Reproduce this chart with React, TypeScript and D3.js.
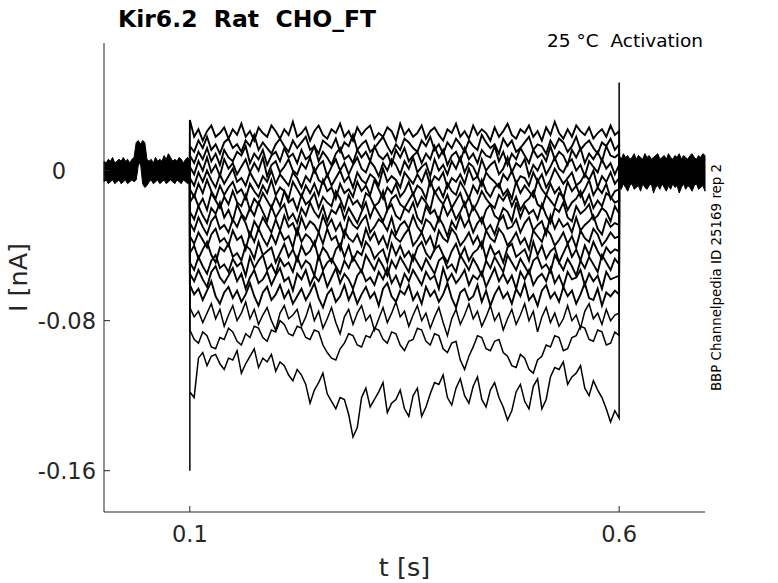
import React from "react";
import * as d3 from "d3";

// ---- data (current in pA, time in s) ----
const xTicks = [0.1, 0.6];
const yTicks = [0, -80, -160];
const yTickLabels = ["0", "-0.08", "-0.16"];

// holding level before / after the step: upper and lower edge of the overlaid sweeps
const preUpper = [5, 4, 6, 5, 7, 4, 5, 6, 5, 7, 5, 6, 4, 6, 7, 15, 16, 14, 16, 15, 6, 5, 6, 4, 7, 5, 6, 5, 8, 6, 9, 7, 5, 6, 5, 7, 6, 4, 6, 7, 5];
const preLower = [-6, -5, -7, -6, -5, -7, -6, -5, -7, -6, -5, -7, -6, -5, -6, -5, 3, 4, -7, -9, -8, -6, -5, -7, -6, -5, -7, -6, -5, -7, -6, -5, -6, -7, -5, -6, -7, -5, -6, -7, -6];
const postUpper = [8, 6, 9, 7, 8, 6, 7, 9, 6, 8, 7, 6, 9, 7, 8, 6, 7, 8, 9, 6, 7, 8, 6, 9, 7, 6, 8, 7, 9, 6, 8, 7, 6, 8, 9, 7, 6, 8, 7, 9, 8];
const postLower = [-8, -10, -7, -9, -11, -8, -7, -10, -9, -8, -11, -7, -9, -10, -8, -7, -12, -9, -8, -10, -7, -9, -11, -8, -10, -7, -9, -8, -12, -9, -7, -10, -8, -9, -11, -8, -7, -10, -9, -8, -11];

// sweeps during the step (0.1 s .. 0.6 s), evenly sampled
const s01 = [27, 18, 22, 16, 21, 24, 18, 20, 23, 17, 22, 19, 25, 18, 21, 16, 23, 20, 18, 24, 21, 17, 22, 19, 26, 18, 20, 23, 16, 21, 24, 19, 17, 22, 20, 25, 18, 21, 16, 23, 19, 22, 24, 17, 20, 18, 23, 21, 16, 25, 19, 22, 18, 20, 24, 17, 21, 23, 19, 16, 22, 20, 25, 18, 21, 17, 24, 19, 22, 20, 16, 23, 18, 21, 25, 19, 17, 22, 20, 24, 18, 21, 16, 23, 19, 26, 20, 17, 22, 18, 24, 21, 19, 23, 17, 20, 22, 18, 24, 19, 21];
const s02 = [13, 10, 16, 12, 18, 11, 14, 9, 15, 17, 12, 14, 10, 16, 13, 19, 11, 15, 12, 9, 14, 17, 13, 10, 16, 12, 15, 18, 11, 13, 9, 16, 14, 12, 17, 10, 15, 13, 19, 11, 14, 16, 10, 12, 15, 18, 13, 9, 14, 11, 17, 15, 12, 10, 16, 13, 18, 11, 14, 9, 15, 12, 17, 14, 10, 16, 13, 11, 19, 15, 12, 14, 9, 17, 13, 16, 10, 12, 15, 18, 11, 14, 13, 9, 16, 12, 17, 15, 10, 13, 18, 11, 14, 16, 12, 9, 15, 13, 17, 11, 14];
const s03 = [8, 4, 10, 6, 12, 5, 9, 3, 11, 7, 5, 10, 8, 13, 4, 9, 6, 11, 3, 8, 10, 5, 12, 7, 9, 4, 11, 6, 8, 13, 5, 10, 7, 3, 9, 12, 6, 8, 4, 11, 7, 10, 5, 13, 8, 6, 9, 3, 11, 7, 12, 5, 8, 10, 4, 9, 6, 13, 7, 11, 3, 8, 10, 5, 12, 6, 9, 4, 11, 8, 7, 13, 5, 10, 3, 9, 6, 12, 8, 4, 11, 7, 9, 5, 13, 6, 10, 8, 3, 11, 7, 12, 4, 9, 6, 10, 5, 13, 8, 7, 9];
const s04 = [2, -2, 5, 0, 7, -1, 3, -3, 6, 1, 4, -2, 2, 6, -1, 4, 0, 7, -3, 3, 5, -1, 2, 6, 0, -2, 4, 1, 7, -1, 3, 5, -3, 2, 6, 0, 4, -2, 3, 7, 1, -1, 5, 2, -3, 4, 0, 6, 3, -2, 5, 1, 7, -1, 2, 4, -3, 6, 0, 3, -2, 5, 1, 7, -1, 4, 2, -3, 6, 0, 3, 5, -2, 1, 7, -1, 4, 2, 6, -3, 3, 0, 5, -2, 2, 7, 1, -1, 4, 6, 0, 3, -3, 5, 2, -1, 6, 1, 4, -2, 3];
const s05 = [-4, -8, -1, -6, 0, -5, -9, -2, -7, -3, 1, -6, -4, -8, -1, -5, -9, -3, -6, 0, -7, -2, -5, -8, -1, -4, -9, -3, -6, 1, -5, -7, -2, -8, -4, 0, -6, -3, -9, -1, -5, -7, -2, -4, -8, 1, -6, -3, -5, -9, -1, -4, -7, -2, -6, 0, -8, -3, -5, -1, -9, -4, -6, -2, -7, 1, -5, -3, -8, -1, -4, -6, -9, -2, -5, 0, -7, -3, -4, -8, -1, -6, -2, -9, -5, 1, -3, -7, -4, -1, -8, -6, -2, -5, 0, -9, -3, -6, -1, -7, -4];
const s06 = [-10, -14, -7, -12, -5, -11, -15, -8, -13, -9, -6, -12, -10, -15, -7, -11, -14, -8, -12, -5, -13, -9, -11, -15, -6, -10, -14, -8, -12, -7, -13, -5, -11, -9, -15, -7, -12, -10, -14, -6, -11, -8, -13, -5, -10, -15, -9, -12, -7, -14, -11, -6, -13, -8, -10, -15, -5, -12, -9, -14, -7, -11, -13, -6, -10, -15, -8, -12, -5, -11, -14, -9, -7, -13, -10, -15, -6, -12, -8, -11, -14, -5, -10, -13, -7, -12, -9, -15, -6, -11, -8, -14, -10, -5, -13, -9, -12, -7, -15, -11, -10];
const s07 = [-17, -13, -19, -15, -21, -12, -16, -20, -14, -18, -11, -17, -19, -13, -21, -15, -18, -12, -16, -20, -14, -19, -11, -17, -15, -21, -13, -18, -16, -12, -20, -14, -17, -19, -11, -15, -21, -13, -18, -16, -20, -12, -14, -19, -17, -11, -21, -15, -13, -18, -20, -16, -12, -19, -14, -17, -21, -11, -15, -18, -13, -20, -16, -12, -19, -14, -21, -17, -11, -15, -18, -20, -13, -16, -12, -19, -14, -21, -17, -15, -11, -18, -20, -13, -16, -19, -12, -14, -21, -17, -15, -11, -18, -13, -20, -16, -19, -12, -14, -17, -16];
const s08 = [-22, -26, -19, -24, -28, -20, -23, -17, -25, -21, -27, -18, -23, -26, -20, -24, -17, -22, -27, -19, -25, -21, -18, -26, -23, -28, -20, -24, -17, -22, -25, -19, -27, -21, -23, -18, -26, -20, -24, -28, -22, -17, -25, -19, -23, -27, -21, -18, -24, -26, -20, -22, -17, -25, -28, -19, -23, -21, -27, -18, -24, -20, -26, -22, -17, -25, -19, -23, -28, -21, -18, -24, -26, -20, -22, -27, -17, -25, -19, -23, -21, -26, -18, -24, -28, -20, -22, -17, -25, -27, -19, -23, -21, -18, -26, -24, -20, -22, -27, -19, -23];
const s09 = [-28, -32, -25, -30, -34, -27, -24, -31, -29, -33, -26, -30, -24, -28, -35, -27, -31, -25, -29, -33, -26, -32, -24, -30, -28, -34, -25, -31, -27, -29, -33, -24, -30, -26, -32, -28, -35, -25, -29, -31, -27, -24, -33, -30, -26, -28, -32, -25, -34, -29, -27, -31, -24, -30, -33, -26, -28, -32, -25, -29, -35, -27, -31, -24, -30, -26, -33, -28, -25, -32, -29, -34, -27, -24, -31, -30, -26, -33, -28, -25, -32, -29, -27, -34, -24, -31, -26, -30, -28, -33, -25, -32, -29, -27, -24, -31, -34, -26, -30, -28, -29];
const s10 = [-35, -39, -33, -37, -41, -34, -31, -38, -36, -40, -32, -37, -35, -42, -33, -38, -31, -36, -40, -34, -39, -32, -37, -35, -41, -31, -38, -34, -36, -40, -33, -39, -31, -37, -35, -42, -32, -36, -38, -34, -40, -31, -37, -33, -39, -35, -41, -32, -36, -38, -34, -31, -40, -37, -33, -39, -35, -42, -32, -36, -38, -31, -34, -40, -37, -33, -39, -35, -41, -32, -36, -38, -31, -34, -40, -37, -33, -39, -36, -42, -32, -35, -38, -31, -34, -40, -37, -33, -39, -35, -41, -32, -36, -38, -31, -34, -40, -37, -33, -36, -35];
const s11 = [-44, -40, -47, -42, -38, -45, -49, -41, -43, -39, -46, -44, -48, -40, -42, -47, -38, -45, -43, -41, -49, -44, -39, -46, -42, -48, -40, -45, -43, -38, -47, -41, -44, -49, -42, -39, -46, -40, -48, -43, -45, -38, -41, -47, -44, -42, -49, -39, -45, -40, -46, -43, -48, -41, -38, -44, -47, -42, -40, -45, -49, -43, -39, -46, -41, -48, -44, -42, -38, -47, -40, -45, -43, -49, -41, -39, -46, -44, -42, -48, -38, -45, -40, -47, -43, -41, -49, -44, -39, -46, -42, -48, -40, -45, -38, -43, -47, -41, -44, -42, -43];
const s12 = [-49, -53, -46, -51, -55, -48, -45, -52, -50, -54, -47, -51, -49, -56, -46, -52, -48, -45, -53, -50, -55, -47, -51, -49, -54, -46, -52, -48, -50, -56, -45, -53, -49, -47, -51, -55, -48, -52, -46, -50, -54, -45, -49, -53, -47, -51, -56, -48, -52, -46, -50, -54, -45, -49, -53, -47, -51, -55, -48, -46, -52, -50, -54, -45, -49, -53, -47, -51, -56, -48, -52, -46, -50, -54, -45, -49, -53, -47, -51, -55, -48, -46, -52, -50, -54, -45, -49, -53, -47, -51, -56, -48, -52, -46, -50, -54, -45, -49, -53, -47, -50];
const s13 = [-55, -59, -53, -58, -62, -54, -51, -57, -60, -56, -52, -59, -55, -63, -57, -53, -60, -58, -54, -61, -56, -52, -59, -57, -64, -55, -58, -53, -61, -56, -59, -54, -62, -57, -52, -60, -55, -58, -63, -56, -53, -59, -57, -61, -54, -58, -52, -60, -56, -62, -55, -59, -53, -57, -61, -54, -58, -56, -63, -52, -59, -55, -60, -57, -53, -61, -56, -58, -54, -62, -57, -52, -59, -55, -60, -56, -63, -54, -58, -53, -61, -57, -55, -59, -52, -60, -56, -62, -54, -58, -57, -53, -61, -55, -59, -56, -63, -54, -58, -57, -56];
const s14 = [-61, -66, -63, -69, -64, -59, -67, -71, -65, -62, -68, -64, -70, -66, -60, -67, -72, -65, -62, -69, -66, -61, -68, -64, -71, -67, -63, -69, -65, -60, -68, -73, -66, -63, -70, -67, -61, -69, -64, -71, -66, -62, -68, -65, -72, -63, -60, -67, -70, -64, -66, -61, -69, -65, -71, -62, -67, -64, -70, -66, -60, -68, -73, -65, -63, -69, -67, -61, -70, -64, -72, -66, -62, -68, -65, -71, -63, -67, -60, -69, -66, -72, -64, -61, -68, -65, -70, -62, -67, -64, -71, -66, -60, -68, -69, -63, -72, -65, -67, -64, -66];
const s15 = [-73, -78, -75, -81, -76, -71, -79, -74, -83, -77, -72, -80, -76, -70, -79, -74, -82, -77, -73, -80, -85, -76, -72, -79, -77, -74, -83, -78, -71, -80, -75, -84, -79, -73, -81, -87, -78, -74, -82, -76, -72, -80, -77, -85, -79, -73, -81, -76, -70, -78, -75, -83, -77, -72, -80, -76, -84, -78, -73, -81, -88, -79, -74, -82, -77, -71, -79, -75, -83, -78, -72, -80, -76, -85, -79, -74, -82, -77, -71, -80, -75, -86, -78, -73, -81, -76, -83, -79, -72, -80, -77, -84, -75, -71, -79, -76, -82, -74, -80, -77, -76];
const s16 = [-85, -90, -92, -86, -88, -94, -95, -89, -90, -84, -86, -91, -93, -87, -89, -83, -84, -89, -91, -85, -86, -80, -82, -87, -88, -83, -84, -89, -90, -85, -86, -93, -97, -100, -101, -95, -92, -87, -88, -93, -94, -88, -89, -84, -85, -90, -92, -86, -87, -93, -96, -91, -90, -84, -85, -91, -93, -87, -88, -95, -97, -92, -91, -101, -106, -99, -94, -88, -89, -95, -96, -91, -90, -97, -99, -104, -105, -98, -100, -106, -108, -101, -99, -93, -94, -88, -89, -96, -95, -89, -88, -83, -84, -90, -91, -85, -86, -93, -92, -86, -88];
const s17 = [-118, -121, -100, -97, -104, -99, -98, -103, -106, -100, -101, -96, -108, -103, -99, -95, -105, -100, -102, -98, -107, -102, -104, -109, -112, -106, -109, -114, -124, -117, -113, -108, -119, -123, -127, -121, -122, -130, -142, -137, -121, -116, -126, -122, -118, -113, -129, -124, -122, -117, -127, -131, -120, -116, -131, -126, -119, -113, -114, -109, -121, -125, -116, -111, -120, -124, -115, -110, -122, -126, -117, -113, -121, -126, -133, -128, -118, -114, -123, -127, -115, -111, -127, -122, -110, -105, -106, -102, -114, -110, -108, -104, -116, -120, -112, -117, -121, -127, -134, -128, -132];
const sweeps = [s01, s02, s03, s04, s05, s06, s07, s08, s09, s10, s11, s12, s13, s14, s15, s16, s17];

// capacitive transients of the deepest sweep
const onsetPeak = -160;
const offsetPeak = 47;

const sampleTimes = (n: number, t0: number, t1: number) => d3.range(n).map((i) => t0 + (i * (t1 - t0)) / (n - 1));

const font = "'DejaVu Sans', sans-serif";

export default function App() {
  const left = 104, right = 705, top = 43, bottom = 512;
  const x = d3.scaleLinear().domain([0, 0.7]).range([left, right]);
  const y = d3.scaleLinear().domain([-182, 68]).range([bottom, top]);

  const line = d3.line<[number, number]>().x((d) => x(d[0])).y((d) => y(d[1]));
  const band = (t0: number, t1: number, hi: number[], lo: number[]) => {
    const ts = sampleTimes(hi.length, t0, t1);
    return d3.area<number>()
      .x((d, i) => x(ts[i]))
      .y0((d, i) => y(lo[i]))
      .y1((d) => y(d))(hi) || "";
  };

  const last = sweeps.length - 1;
  const sweepPaths = sweeps.map((vals, k) => {
    const ts = sampleTimes(vals.length, 0.1, 0.6);
    const pts: [number, number][] = [[0.1, 0]];
    if (k === last) pts.push([0.1, onsetPeak]);
    vals.forEach((v, i) => pts.push([ts[i], v]));
    if (k === last) pts.push([0.6, offsetPeak]);
    pts.push([0.6, 0]);
    return line(pts) || "";
  });

  const axisColor = "#262626";

  return (
    <svg width={778} height={583} style={{ position: "absolute", left: 0, top: 0, background: "#fff" }}>
      <rect width={778} height={583} fill="#fff" />
      {/* traces */}
      <path d={band(0, 0.1, preUpper, preLower)} fill="#000" stroke="#000" strokeWidth={1} />
      <path d={band(0.6, 0.7, postUpper, postLower)} fill="#000" stroke="#000" strokeWidth={1} />
      {sweepPaths.map((d, i) => (
        <path key={i} d={d} fill="none" stroke="#000" strokeWidth={i < 14 ? 1.9 : 1.5} strokeLinejoin="miter" />
      ))}

      {/* axes */}
      <line x1={left} x2={left} y1={top} y2={bottom} stroke={axisColor} strokeWidth={1} />
      <line x1={left} x2={right} y1={bottom} y2={bottom} stroke={axisColor} strokeWidth={1} />
      {yTicks.map((t, i) => (
        <g key={t}>
          <line x1={left} x2={left + 6} y1={y(t)} y2={y(t)} stroke={axisColor} />
          <text x={t === 0 ? left - 38 : left - 8} y={y(t)} dy="0.36em" textAnchor="end"
            fontFamily={font} fontSize={22.5} fill={axisColor}>{yTickLabels[i]}</text>
        </g>
      ))}
      {xTicks.map((t) => (
        <g key={t}>
          <line x1={x(t)} x2={x(t)} y1={bottom} y2={bottom - 6} stroke={axisColor} />
          <text x={x(t)} y={bottom + 30} textAnchor="middle" fontFamily={font} fontSize={22.5} fill={axisColor}>{t}</text>
        </g>
      ))}
      <text x={(left + right) / 2} y={576} textAnchor="middle" fontFamily={font} fontSize={25.5} fill={axisColor}>t [s]</text>
      <text transform={`translate(27,${(top + bottom) / 2}) rotate(-90)`} textAnchor="middle"
        fontFamily={font} fontSize={25.5} fill={axisColor}>I [nA]</text>

      {/* titles */}
      <text x={118} y={27} fontFamily={font} fontSize={23.5} fontWeight="bold" fill="#000" style={{ whiteSpace: "pre" }}>
        Kir6.2  Rat  CHO_FT
      </text>
      <text x={703} y={47} textAnchor="end" fontFamily={font} fontSize={18.5} fill="#000" style={{ whiteSpace: "pre" }}>
        25 °C  Activation
      </text>
      <text transform={`translate(721,${(top + bottom) / 2}) rotate(-90)`} textAnchor="middle"
        fontFamily={font} fontSize={13.4} fill="#000">BBP Channelpedia ID 25169 rep 2</text>
    </svg>
  );
}
